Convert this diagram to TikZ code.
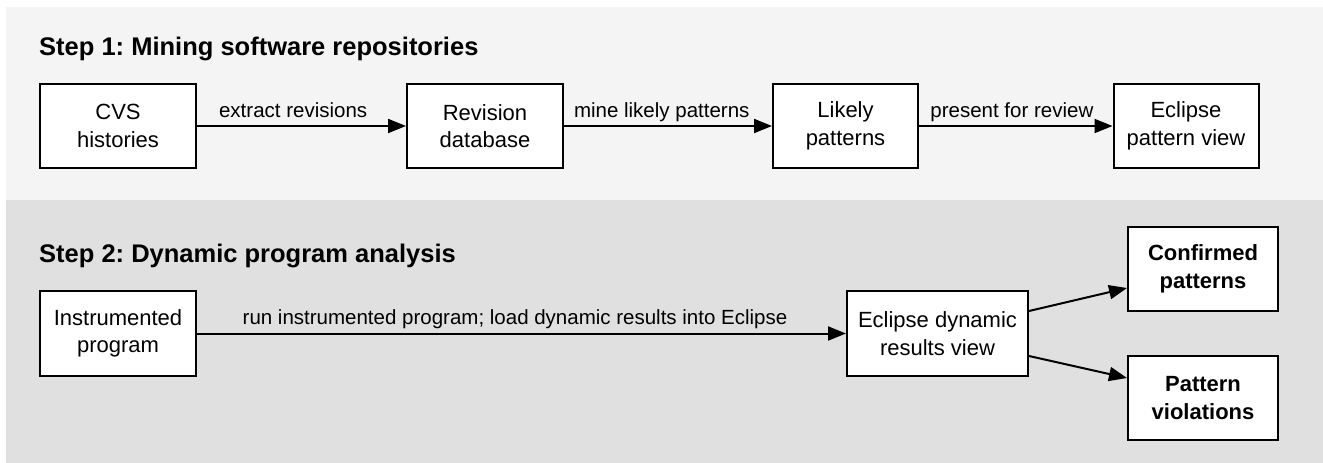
\documentclass[tikz,border=0pt]{standalone}
\usepackage{fontspec}
\setmainfont{Liberation Sans}
\usetikzlibrary{arrows.meta,calc}

\newcommand\dgboxfont{\fontsize{22}{27.4}\selectfont}
\newcommand\dglblfont{\fontsize{20.5}{24}\selectfont}
\newcommand\dgttlfont{\fontsize{25.5}{30}\selectfont\bfseries}

\definecolor{bandlight}{HTML}{F4F4F4}
\definecolor{banddark}{HTML}{E0E0E0}

\begin{document}
\frenchspacing
\begin{tikzpicture}[x=1pt,y=-1pt,
  box/.style={draw=black, line width=2pt, fill=white, inner sep=0pt,
              align=center, font=\dgboxfont},
  flow/.style={line width=2pt, -{Triangle[length=18pt,width=14pt]}},
  lbl/.style={anchor=base, yshift=9pt, font=\dglblfont, inner sep=0pt},
  ttl/.style={anchor=base west, font=\dgttlfont, inner sep=0pt}]

\useasboundingbox (0,0) rectangle (1323,463);

% background bands
\fill[bandlight] (6,7) rectangle (1323,200);
\fill[banddark] (6,200) rectangle (1323,463);

% step 1
\node[ttl] (t1) at (39,55) {Step 1: Mining software repositories};

\node[box, minimum width=156pt, minimum height=84pt] (cvs) at (118,126) {CVS\\histories};
\node[box, minimum width=156pt, minimum height=84pt] (rev) at (485,126) {Revision\\database};
\node[box, minimum width=145pt, minimum height=84pt] (lik) at (845.5,126) {Likely\\patterns};
\node[box, minimum width=145pt, minimum height=84pt] (epv) at (1186,126) {Eclipse\\pattern view};

\draw[flow] (cvs) -- node[lbl, pos=0.46] {extract revisions} (rev);
\draw[flow] (rev) -- node[lbl, pos=0.47] {mine likely patterns} (lik);
\draw[flow] (lik) -- node[lbl, pos=0.48] {present for review} (epv);

% step 2
\node[ttl] (t2) at (39,262) {Step 2: Dynamic program analysis};

\node[box, minimum width=156pt, minimum height=85pt] (ins) at (118,333.5) {Instrumented\\program};
\node[box, minimum width=181pt, minimum height=85pt] (edr) at (937.5,333.5) {Eclipse dynamic\\results view};
\node[box, minimum width=150pt, minimum height=84pt, font=\dgboxfont\bfseries] (conf) at (1203,269) {Confirmed\\patterns};
\node[box, minimum width=150pt, minimum height=84pt, font=\dgboxfont\bfseries] (viol) at (1203,398) {Pattern\\violations};

\draw[flow] (ins) -- node[lbl, pos=0.49] {run instrumented program; load dynamic results into Eclipse} (edr);
\draw[flow] ($(edr.north east)+(0,21)$) -- ($(conf.west)+(0,19)$);
\draw[flow] ($(edr.south east)+(0,-21)$) -- ($(viol.west)+(0,-20)$);

\end{tikzpicture}
\end{document}
